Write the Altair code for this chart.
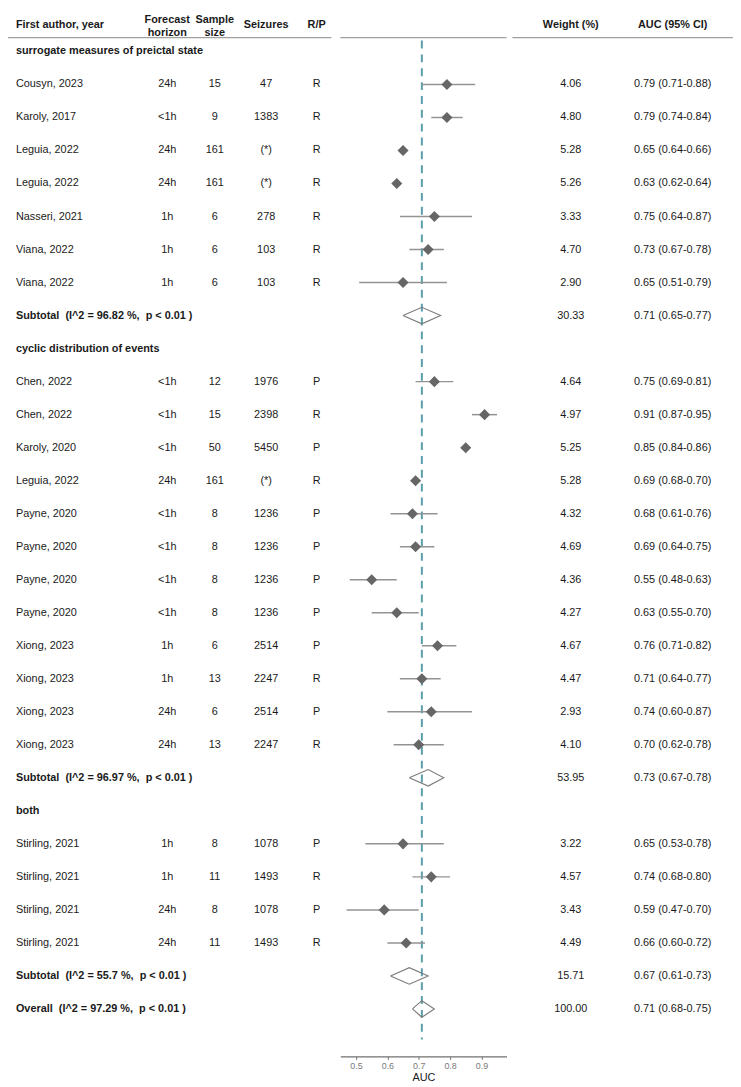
import altair as alt
import pandas as pd

# ---------------- data ----------------
group_names = ["surrogate measures of preictal state", "cyclic distribution of events", "both"]

study_group = [0] * 7 + [1] * 12 + [2] * 4
study_author = ["Cousyn, 2023", "Karoly, 2017", "Leguia, 2022", "Leguia, 2022", "Nasseri, 2021",
                "Viana, 2022", "Viana, 2022",
                "Chen, 2022", "Chen, 2022", "Karoly, 2020", "Leguia, 2022", "Payne, 2020",
                "Payne, 2020", "Payne, 2020", "Payne, 2020", "Xiong, 2023", "Xiong, 2023",
                "Xiong, 2023", "Xiong, 2023",
                "Stirling, 2021", "Stirling, 2021", "Stirling, 2021", "Stirling, 2021"]
study_horizon = ["24h", "<1h", "24h", "24h", "1h", "1h", "1h",
                 "<1h", "<1h", "<1h", "24h", "<1h", "<1h", "<1h", "<1h", "1h", "1h", "24h", "24h",
                 "1h", "1h", "24h", "24h"]
study_sample = ["15", "9", "161", "161", "6", "6", "6",
                "12", "15", "50", "161", "8", "8", "8", "8", "6", "13", "6", "13",
                "8", "11", "8", "11"]
study_seizures = ["47", "1383", "(*)", "(*)", "278", "103", "103",
                  "1976", "2398", "5450", "(*)", "1236", "1236", "1236", "1236", "2514", "2247", "2514", "2247",
                  "1078", "1493", "1078", "1493"]
study_rp = ["R", "R", "R", "R", "R", "R", "R",
            "P", "R", "P", "R", "P", "P", "P", "P", "P", "R", "P", "R",
            "P", "R", "P", "R"]
study_weight = [4.06, 4.80, 5.28, 5.26, 3.33, 4.70, 2.90,
                4.64, 4.97, 5.25, 5.28, 4.32, 4.69, 4.36, 4.27, 4.67, 4.47, 2.93, 4.10,
                3.22, 4.57, 3.43, 4.49]
study_est = [0.79, 0.79, 0.65, 0.63, 0.75, 0.73, 0.65,
             0.75, 0.91, 0.85, 0.69, 0.68, 0.69, 0.55, 0.63, 0.76, 0.71, 0.74, 0.70,
             0.65, 0.74, 0.59, 0.66]
study_lo = [0.71, 0.74, 0.64, 0.62, 0.64, 0.67, 0.51,
            0.69, 0.87, 0.84, 0.68, 0.61, 0.64, 0.48, 0.55, 0.71, 0.64, 0.60, 0.62,
            0.53, 0.68, 0.47, 0.60]
study_hi = [0.88, 0.84, 0.66, 0.64, 0.87, 0.78, 0.79,
            0.81, 0.95, 0.86, 0.70, 0.76, 0.75, 0.63, 0.70, 0.82, 0.77, 0.87, 0.78,
            0.78, 0.80, 0.70, 0.72]

sub_i2 = ["96.82", "96.97", "55.7"]
sub_weight = [30.33, 53.95, 15.71]
sub_est = [0.71, 0.73, 0.67]
sub_lo = [0.65, 0.67, 0.61]
sub_hi = [0.77, 0.78, 0.73]

overall_i2 = "97.29"
overall_weight = 100.00
overall_est = 0.71
overall_lo = 0.68
overall_hi = 0.75

header_labels = ["First author, year", "Forecast\nhorizon", "Sample\nsize", "Seizures", "R/P",
                 "Weight (%)", "AUC (95% CI)"]
tick_values = [0.5, 0.6, 0.7, 0.8, 0.9]

# ---------------- build table ----------------
NB = "\u00a0"
rows = []
r = 0
for g, gname in enumerate(group_names):
    rows.append(dict(row=r, kind="section", label=gname))
    r += 1
    for i in range(len(study_author)):
        if study_group[i] != g:
            continue
        rows.append(dict(row=r, kind="study", label=study_author[i], horizon=study_horizon[i],
                         sample=study_sample[i], seizures=study_seizures[i], rp=study_rp[i],
                         weight=f"{study_weight[i]:.2f}", est=study_est[i], lo=study_lo[i],
                         hi=study_hi[i],
                         auc=f"{study_est[i]:.2f} ({study_lo[i]:.2f}-{study_hi[i]:.2f})"))
        r += 1
    rows.append(dict(row=r, kind="summary",
                     label=f"Subtotal{NB} (I^2 = {sub_i2[g]} %,{NB} p < 0.01 )",
                     weight=f"{sub_weight[g]:.2f}", est=sub_est[g], lo=sub_lo[g], hi=sub_hi[g],
                     auc=f"{sub_est[g]:.2f} ({sub_lo[g]:.2f}-{sub_hi[g]:.2f})"))
    r += 1
rows.append(dict(row=r, kind="summary",
                 label=f"Overall{NB} (I^2 = {overall_i2} %,{NB} p < 0.01 )",
                 weight=f"{overall_weight:.2f}", est=overall_est, lo=overall_lo, hi=overall_hi,
                 auc=f"{overall_est:.2f} ({overall_lo:.2f}-{overall_hi:.2f})"))
df = pd.DataFrame(rows)

studies = df[df.kind == "study"]
summaries = df[df.kind == "summary"]

# diamond outlines for summary rows
HALF = 0.25
poly = []
for _, s in summaries.iterrows():
    pts = [(s.lo, s.row), (s.est, s.row - HALF), (s.hi, s.row), (s.est, s.row + HALF), (s.lo, s.row)]
    for k, (px, py) in enumerate(pts):
        poly.append(dict(grp=int(s.row), ord=k, vx=px, vy=py))
poly_df = pd.DataFrame(poly)

# ---------------- styling ----------------
FONT = "Liberation Sans"
TXT = "#1a1a1a"
W, H = 733, 1054

ys = alt.Scale(domain=[-1.138, 30.437], range=[0, H], nice=False, zero=False)
xs = alt.Scale(domain=[0.45, 0.98], range=[336, 504], nice=False, zero=False)
ax = alt.Axis(values=tick_values, format=".1f", title="AUC", grid=False,
              labelFont=FONT, labelFontSize=9, labelColor="#7a7a7a", labelPadding=2,
              domainColor="#707070", domainWidth=1.5, tickColor="#707070", tickSize=3,
              titleFont=FONT, titleFontSize=11, titleFontWeight="normal", titleColor=TXT,
              titlePadding=1)

Y = alt.Y("row:Q", scale=ys, axis=None)


def col_text(data, field, xpx, align, bold=False):
    return alt.Chart(data).mark_text(
        font=FONT, fontSize=11, color=TXT, align=align, baseline="middle",
        fontWeight="bold" if bold else "normal"
    ).encode(x=alt.value(xpx), y=Y, text=f"{field}:N")


layers = []

# header separator lines
for x0, x1 in [(0, 327), (336, 504), (510, W)]:
    layers.append(alt.Chart(pd.DataFrame({"a": [0]})).mark_rule(color="#a0a0a0", strokeWidth=1.5)
                  .encode(x=alt.value(x0), x2=alt.value(x1), y=alt.value(24)))

# header texts
hdr_pos = [(8, "left"), (161, "center"), (209, "center"), (261, "center"), (312, "center"),
           (569, "center"), (672, "center")]
for lab, (hx, al) in zip(header_labels, hdr_pos):
    two = "\n" in lab
    layers.append(alt.Chart(pd.DataFrame({"h": [lab]})).mark_text(
        font=FONT, fontSize=11, fontWeight="bold", color=TXT, align=al,
        baseline="top" if two else "middle", lineBreak="\n", lineHeight=13
    ).encode(x=alt.value(hx), y=alt.value(0 if two else 11), text="h:N"))

# dashed reference line
layers.append(alt.Chart(pd.DataFrame({"v": [overall_est]})).mark_rule(
    color="#5a9eab", strokeWidth=2, strokeDash=[8, 6]
).encode(x=alt.X("v:Q", scale=xs, axis=ax), y=alt.value(27), y2=alt.value(1037)))

# whiskers
layers.append(alt.Chart(studies).mark_rule(color="#939393", strokeWidth=1.5).encode(
    x=alt.X("lo:Q", scale=xs, axis=ax), x2="hi:Q", y=Y))

# study points
layers.append(alt.Chart(studies).mark_point(shape="diamond", filled=True, size=125,
                                            color="#666666", opacity=1).encode(
    x=alt.X("est:Q", scale=xs, axis=ax), y=Y))

# summary diamonds
layers.append(alt.Chart(poly_df).mark_line(color="#7a7a7a", strokeWidth=1.1).encode(
    x=alt.X("vx:Q", scale=xs, axis=ax), y=alt.Y("vy:Q", scale=ys, axis=None),
    detail="grp:N", order="ord:Q"))

# text columns
layers.append(col_text(df[df.kind == "study"], "label", 8, "left"))
layers.append(col_text(df[df.kind != "study"], "label", 8, "left", bold=True))
layers.append(col_text(studies, "horizon", 161, "center"))
layers.append(col_text(studies, "sample", 209, "center"))
layers.append(col_text(studies, "seizures", 261, "center"))
layers.append(col_text(studies, "rp", 312, "center"))
layers.append(col_text(df[df.kind != "section"], "weight", 569, "center"))
layers.append(col_text(df[df.kind != "section"], "auc", 672, "center"))

chart = alt.layer(*layers).properties(
    width=W, height=H,
    autosize=alt.AutoSizeParams(type="none"),
    padding={"left": 0, "top": 0, "right": 0, "bottom": 25},
).configure_view(stroke=None)

chart.save("out.html", embed_options={"renderer": "svg", "actions": False})
